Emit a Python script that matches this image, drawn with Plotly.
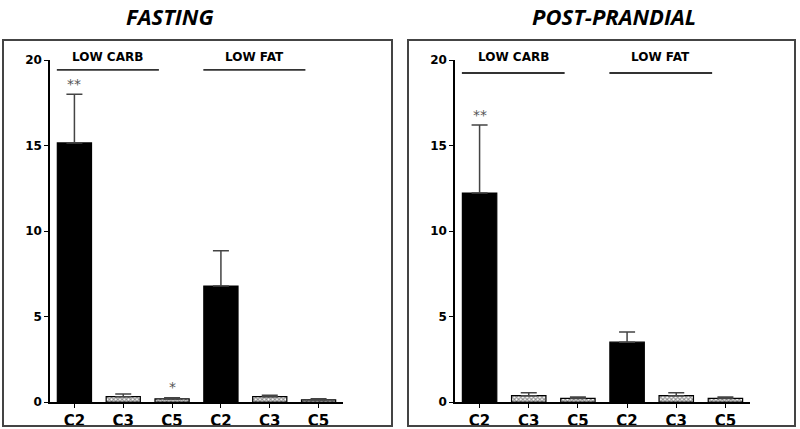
import plotly.graph_objects as go

categories = ["C2", "C3", "C5", "C2", "C3", "C5"]
fasting_mean = [15.15, 0.31, 0.18, 6.78, 0.31, 0.13]
fasting_err = [2.85, 0.16, 0.07, 2.07, 0.08, 0.06]
fasting_sig = ["**", "", "*", "", "", ""]
post_mean = [12.22, 0.37, 0.21, 3.50, 0.37, 0.21]
post_err = [3.98, 0.17, 0.08, 0.60, 0.17, 0.08]
post_sig = ["**", "", "", "", "", ""]
groups = ["LOW CARB", "LOW FAT"]
group_start = [0, 3]
panel_titles = ["FASTING", "POST-PRANDIAL"]
y_ticks = [0, 5, 10, 15, 20]

W, H = 800, 429
def px(x):
    return x / W
def py(y):
    return 1 - y / H

x = list(range(len(categories)))
solid = [c == "C2" for c in categories]

fig = go.Figure()
panels = [
    (fasting_mean, fasting_err, fasting_sig, "x", "y", 19.42),
    (post_mean, post_err, post_sig, "x2", "y2", 19.24),
]
for mean, err, sig, xa, ya, line_y in panels:
    for is_solid in (True, False):
        idx = [i for i in x if solid[i] == is_solid]
        fig.add_trace(go.Bar(
            x=[x[i] for i in idx], y=[mean[i] for i in idx],
            xaxis=xa, yaxis=ya, width=0.7,
            marker=dict(
                color="black" if is_solid else "white",
                line=dict(color="black", width=1.2),
                pattern=None if is_solid else dict(shape="x", size=3, solidity=0.6,
                                                    fgcolor="#222", bgcolor="white"),
            ),
            error_y=dict(type="data", symmetric=False,
                         array=[err[i] for i in idx],
                         arrayminus=[0] * len(idx),
                         color="#444", thickness=1.5, width=8),
            showlegend=False,
        ))
    for i in x:
        if sig[i]:
            fig.add_annotation(x=i, y=mean[i] + err[i] + 0.6, xref=xa, yref=ya,
                               text=sig[i], showarrow=False,
                               xanchor="center", yanchor="middle",
                               font=dict(family="DejaVu Sans", size=14, color="#555"))
    for g, s in zip(groups, group_start):
        fig.add_shape(type="line", xref=xa, yref=ya, x0=s - 0.36, x1=s + 1.73,
                      y0=line_y, y1=line_y, line=dict(color="#333", width=1.8))
        fig.add_annotation(x=s + 0.685, y=py(57), xref=xa, yref="paper", text=g,
                           showarrow=False, xanchor="center", yanchor="middle",
                           font=dict(family="DejaVu Sans", size=12, color="black", weight="bold"))

for t, cx in zip(panel_titles, [169.5, 614]):
    fig.add_annotation(x=px(cx), y=1, xref="paper", yref="paper",
                       text="<b><i>" + t + "</i></b>", showarrow=False,
                       xanchor="center", yanchor="top", borderpad=0,
                       font=dict(family="Open Sans", size=22, color="black"))

for x0, x1 in [(3, 392), (408, 795)]:
    fig.add_shape(type="rect", xref="paper", yref="paper",
                  x0=px(x0), x1=px(x1), y0=py(426), y1=py(40),
                  line=dict(color="#444", width=2), fillcolor="rgba(0,0,0,0)")

xaxis_common = dict(range=[-0.5, 5.5], tickvals=x, ticktext=categories,
                    showline=True, linecolor="black", linewidth=1.5,
                    ticks="outside", ticklen=4, tickwidth=1.2, tickcolor="black",
                    showgrid=False, zeroline=False, fixedrange=True, automargin=False,
                    tickfont=dict(family="DejaVu Sans", size=15, color="black", weight="bold"))
yaxis_common = dict(range=[0, 20], tickvals=y_ticks,
                    domain=[1 - 402 / H, 1 - 60 / H],
                    showline=True, linecolor="black", linewidth=1.5,
                    ticks="outside", ticklen=4, tickwidth=1.2, tickcolor="black",
                    showgrid=False, zeroline=False, automargin=False, fixedrange=True,
                    tickfont=dict(family="DejaVu Sans", size=12, color="black", weight="bold"))

fig.update_layout(
    width=W, height=H,
    margin=dict(l=0, r=0, t=0, b=0, pad=0),
    paper_bgcolor="white", plot_bgcolor="white",
    barmode="overlay", showlegend=False,
    xaxis=dict(domain=[px(50), px(343)], anchor="y", **xaxis_common),
    yaxis=dict(anchor="x", **yaxis_common),
    xaxis2=dict(domain=[px(455), px(750)], anchor="y2", **xaxis_common),
    yaxis2=dict(anchor="x2", **yaxis_common),
)

fig.write_html("out.html", config={"displayModeBar": False},
               post_script="document.body.style.margin='0';document.body.style.overflow='hidden';")
